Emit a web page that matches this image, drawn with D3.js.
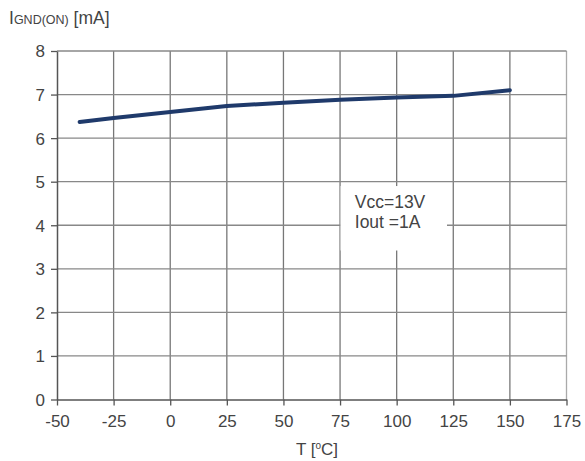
<!DOCTYPE html>
<html>
<head>
<meta charset="utf-8">
<script src="https://cdn.jsdelivr.net/npm/d3@7"></script>
<style>
  body { margin: 0; background: #fff; }
  text { font-family: "Liberation Sans", Arial, sans-serif; fill: #444; }
</style>
</head>
<body>
<svg id="chart" width="585" height="461"></svg>
<script>
// data
const temps = [-40, -25, 0, 25, 50, 75, 100, 125, 150];
const ignd = [6.37, 6.46, 6.60, 6.74, 6.81, 6.88, 6.93, 6.97, 7.10];
const xTicks = [-50, -25, 0, 25, 50, 75, 100, 125, 150, 175];
const yTicks = [0, 1, 2, 3, 4, 5, 6, 7, 8];
const noteLines = ['Vcc=13V', 'Iout =1A'];

const margin = { top: 51, right: 18, bottom: 62, left: 57 };

const svg = d3.select('#chart');
const g = svg.append('g').attr('transform', `translate(${margin.left},${margin.top})`);

const x = d3.scaleLinear().domain([-50, 175]).range([0, 509.5]);
const y = d3.scaleLinear().domain([0, 8]).range([348.5, 0]);

// grid
g.selectAll('.vgrid').data(xTicks.slice(1)).join('line')
    .attr('class', 'vgrid')
    .attr('x1', d => x(d)).attr('x2', d => x(d))
    .attr('y1', 0).attr('y2', y(0))
    .attr('stroke', d => d == 175 ? '#aaa' : '#777')
    .attr('stroke-width', 1.3);
g.selectAll('.hgrid').data(yTicks.slice(1)).join('line')
    .attr('class', 'hgrid')
    .attr('x1', 0).attr('x2', x(175))
    .attr('y1', d => y(d)).attr('y2', d => y(d))
    .attr('stroke', '#888')
    .attr('stroke-width', 1.3);

// axes
const xAxis = g.append('g').attr('transform', `translate(0,${y(0)})`)
    .call(d3.axisBottom(x).tickValues(xTicks).tickFormat(d => String(d))
        .tickSize(6).tickPadding(9).tickSizeOuter(0));
const yAxis = g.append('g')
    .call(d3.axisLeft(y).tickValues(yTicks).tickFormat(d => String(d))
        .tickSize(6).tickPadding(6).tickSizeOuter(0));
[xAxis, yAxis].forEach(a => {
    a.select('.domain').attr('stroke', '#555').attr('stroke-width', 1.5);
    a.selectAll('.tick line').attr('stroke', '#555').attr('stroke-width', 1.3);
    a.selectAll('.tick text').style('font-size', '17px').attr('fill', '#444')
        .style('font-family', '"Liberation Sans", Arial, sans-serif');
});
yAxis.selectAll('.tick text').attr('dy', '0.35em');

// curve
const line = d3.line().x((d, i) => x(temps[i])).y(d => y(d));
g.append('path').datum(ignd)
    .attr('d', line)
    .attr('fill', 'none')
    .attr('stroke', '#1f3a6b')
    .attr('stroke-width', 4)
    .attr('stroke-linecap', 'round')
    .attr('stroke-linejoin', 'round');

// condition note
g.append('rect')
    .attr('x', x(75) + 0.5).attr('y', y(4.9))
    .attr('width', x(122) - x(75)).attr('height', y(3.42) - y(4.9))
    .attr('fill', '#fff');
g.selectAll('.note').data(noteLines).join('text')
    .attr('class', 'note')
    .attr('x', x(81.5))
    .attr('y', (d, i) => y(4.4) + i * 20)
    .style('font-size', '17.5px')
    .text(d => d);

// axis titles
const yt = svg.append('text').attr('x', 9).attr('y', 24).style('font-size', '17.5px');
yt.append('tspan').text('I');
yt.append('tspan').style('font-size', '12.5px').text('GND(ON)');
yt.append('tspan').text(' [mA]');

const xt = svg.append('text').attr('x', 296).attr('y', 455).style('font-size', '17px');
xt.append('tspan').text('T [');
xt.append('tspan').style('font-size', '10px').attr('dy', -6).text('o');
xt.append('tspan').attr('dy', 6).text('C]');
</script>
</body>
</html>
